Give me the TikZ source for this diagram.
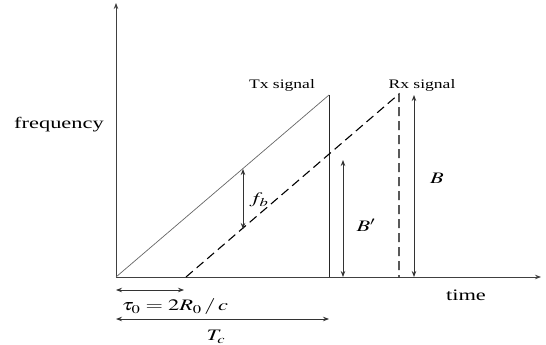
\documentclass[tikz,border=0pt]{standalone}
\usepackage{mathptmx}
\usepackage{fontspec}
\setmainfont{Liberation Serif}
\usetikzlibrary{arrows.meta}
\tikzset{axisline/.style={draw=black!75, line width=0.9pt, -{Stealth[length=6pt,width=4.5pt]}}}
\tikzset{txline/.style={draw=black!60, line width=0.7pt}}
\tikzset{rxline/.style={draw=black, line width=1.1pt, dash pattern=on 9pt off 5pt}}
\tikzset{measure/.style={draw=black!80, line width=0.8pt, {Stealth[length=6pt,width=4.5pt]}-{Stealth[length=6pt,width=4.5pt]}}}
\tikzset{biglabel/.style={font=\fontsize{16}{18}\selectfont, xscale=1.4, inner sep=1pt}}
\tikzset{smalllabel/.style={font=\fontsize{13}{15}\selectfont, xscale=1.35, inner sep=1pt}}

\begin{document}
\begin{tikzpicture}[x=1pt, y=-1pt]
    \useasboundingbox (0,0) rectangle (546,345);

    % axes
    \coordinate (O) at (116,277);
    \coordinate (ytop) at (116,3);
    \coordinate (xend) at (541,277);
    \draw[axisline] (O) -- (ytop);
    \draw[axisline] (O) -- (xend);
    \node[biglabel] (freq) at (59,125) {frequency};
    \node[biglabel] (time) at (466,295) {time};

    % chirps
    \coordinate (txpeak) at (329,95);
    \coordinate (txfoot) at (329,277);
    \coordinate (rxstart) at (186,277);
    \coordinate (rxpeak) at (399,94);
    \coordinate (rxfoot) at (399,277);
    \draw[txline] (O) -- (txpeak);
    \draw[txline, draw=black!85] (txpeak) -- (txfoot);
    \draw[rxline] (rxstart) -- (rxpeak) -- (rxfoot);
    \node[smalllabel] (tx) at (282,85) {Tx signal};
    \node[smalllabel] (rx) at (422,85) {Rx signal};

    % beat frequency and bandwidths
    \coordinate (fbtop) at (243,169);
    \coordinate (fbbot) at (243,229);
    \draw[measure] (fbtop) -- (fbbot);
    \node[biglabel] (fb) at (259,200) {$f_b$};
    \coordinate (bptop) at (343,160);
    \coordinate (bpbot) at (343,277);
    \draw[measure] (bptop) -- (bpbot);
    \node[biglabel] (bp) at (366,225) {$B'$};
    \coordinate (btop) at (414,95);
    \coordinate (bbot) at (414,277);
    \draw[measure] (btop) -- (bbot);
    \node[biglabel] (b) at (437,178) {$B$};

    % delay and chirp duration
    \coordinate (tauL) at (116,290);
    \coordinate (tauR) at (184,290);
    \draw[measure] (tauL) -- (tauR);
    \node[biglabel] (tau) at (175,307) {$\tau_0 = 2R_0 \,/\, c$};
    \coordinate (tcL) at (116,319);
    \coordinate (tcR) at (329,319);
    \draw[measure] (tcL) -- (tcR);
    \node[biglabel] (tc) at (216,337) {$T_c$};
\end{tikzpicture}
\end{document}
